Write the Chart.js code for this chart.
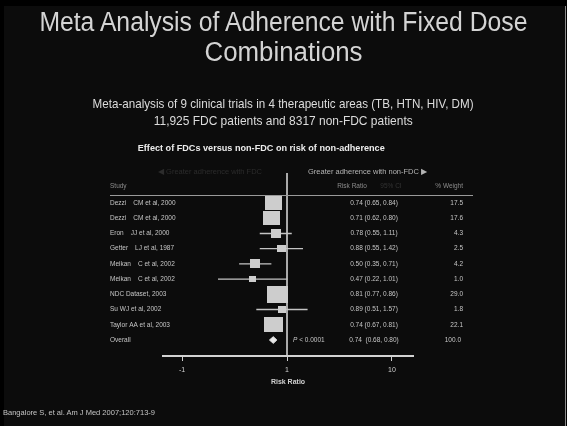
<!DOCTYPE html>
<html>
<head>
<meta charset="utf-8">
<script src="https://cdn.jsdelivr.net/npm/chart.js@4.4.1/dist/chart.umd.min.js"></script>
<style>
  html, body { margin: 0; padding: 0; background: #000; width: 567px; height: 426px; overflow: hidden; }
  #slide { position: absolute; left: 4px; top: 6px; width: 561px; height: 420px; background: #0c0c0c; border-right: 1px solid #8a8a8a; }
  #chart { position: absolute; left: 0; top: 0; }
  .t { position: absolute; white-space: nowrap; font-family: "Liberation Sans", Arial, sans-serif; }
  .t span { display: inline-block; }
  .c { text-align: center; }
  .c span { transform-origin: center; }
  .l span { transform-origin: left; }
</style>
</head>
<body>
<div id="slide"></div>
<canvas id="chart" width="567" height="426"></canvas>

<div class="t c" style="left:0;width:567px;top:6px;height:32px;line-height:32px;font-size:27px;color:#d4d4d4"><span data-w="488">Meta Analysis of Adherence with Fixed Dose</span></div>
<div class="t c" style="left:0;width:567px;top:36px;height:32px;line-height:32px;font-size:27px;color:#d4d4d4"><span data-w="158">Combinations</span></div>
<div class="t c" style="left:0;width:567px;top:95px;height:17px;line-height:17px;font-size:13.5px;color:#dcdcdc"><span data-w="381">Meta-analysis of 9 clinical trials in 4 therapeutic areas (TB, HTN, HIV, DM)</span></div>
<div class="t c" style="left:0;width:567px;top:112px;height:17px;line-height:17px;font-size:13.5px;color:#dcdcdc"><span data-w="259">11,925 FDC patients and 8317 non-FDC patients</span></div>
<div class="t c" style="left:61px;width:400px;top:142px;height:12px;line-height:12px;font-size:8.5px;font-weight:bold;color:#ececec"><span data-w="247">Effect of FDCs versus non-FDC on risk of non-adherence</span></div>
<div class="t l" style="left:3px;top:407px;height:12px;line-height:12px;font-size:7.5px;color:#c4c4c4"><span data-w="152">Bangalore S, et al. Am J Med 2007;120:713-9</span></div>

<script>
// Forest plot data: risk of non-adherence, FDC vs non-FDC
const studyAuthors = ["Dezzi", "Dezzi", "Eron", "Getter", "Meikan", "Meikan", "NDC Dataset, 2003", "Su WJ et al, 2002", "Taylor AA et al, 2003"];
const studyRefs = ["CM et al, 2000", "CM et al, 2000", "JJ et al, 2000", "LJ et al, 1987", "C et al, 2002", "C et al, 2002", "", "", ""];
const riskRatio = [0.74, 0.71, 0.78, 0.88, 0.50, 0.47, 0.81, 0.89, 0.74];
const ciLow = [0.65, 0.62, 0.55, 0.55, 0.35, 0.22, 0.77, 0.51, 0.67];
const ciHigh = [0.84, 0.80, 1.11, 1.42, 0.71, 1.01, 0.86, 1.57, 0.81];
const weights = [17.5, 17.6, 4.3, 2.5, 4.2, 1.0, 29.0, 1.8, 22.1];
const overallLabel = "Overall";
const overallRR = 0.74;
const overallLow = 0.68;
const overallHigh = 0.80;
const overallWeight = 100.0;
const pValueText = " < 0.0001";
const tickValues = [0.1, 1, 10];
const tickLabels = ["-1", "1", "10"];

const FONT = '"Liberation Sans", Arial, sans-serif';
const overallRow = studyAuthors.length;

// Square markers sized by study weight
function makeBox(w) {
  const c = document.createElement('canvas');
  const s = Math.sqrt(w);
  c.width = Math.round(4 + 3.1 * s);
  c.height = Math.round(3.5 + 2.5 * s);
  const g = c.getContext('2d');
  g.fillStyle = '#cdcdcd';
  g.fillRect(0, 0, c.width, c.height);
  return c;
}
const boxImages = weights.map(makeBox);

// Confidence interval segments, separated by gaps
const ciSegments = [];
riskRatio.forEach((r, i) => {
  ciSegments.push({ x: ciLow[i], y: i }, { x: ciHigh[i], y: i }, { x: ciHigh[i], y: null });
});

const dh = 0.22;
const diamond = [
  { x: overallLow, y: overallRow },
  { x: overallRR, y: overallRow - dh },
  { x: overallHigh, y: overallRow },
  { x: overallRR, y: overallRow + dh },
  { x: overallLow, y: overallRow }
];

const fmt = v => v.toFixed(2);

const tablePlugin = {
  id: 'forestTable',
  afterDraw(chart) {
    const ctx = chart.ctx;
    const ys = chart.scales.y;
    const X = v => chart.scales.x.getPixelForValue(v);
    ctx.save();
    ctx.textBaseline = 'middle';

    // direction captions
    ctx.font = '7.5px ' + FONT;
    ctx.textAlign = 'center';
    ctx.fillStyle = '#2c2c2c';
    ctx.fillText('\u25C0 Greater adherence with FDC', 210, ys.getPixelForValue(-2.03));
    ctx.textAlign = 'left';
    ctx.fillStyle = '#b4b4b4';
    ctx.fillText('Greater adherence with non-FDC \u25B6', 308, ys.getPixelForValue(-2.03));

    // column headers
    const hy = ys.getPixelForValue(-1.12);
    ctx.font = '6.5px ' + FONT;
    ctx.fillStyle = '#8c8c8c';
    ctx.textAlign = 'left';
    ctx.fillText('Study', 110, hy);
    ctx.textAlign = 'center';
    ctx.fillText('Risk Ratio', 352, hy);
    ctx.fillStyle = '#333333';
    ctx.fillText('95% CI', 391, hy);
    ctx.fillStyle = '#8c8c8c';
    ctx.textAlign = 'right';
    ctx.fillText('% Weight', 463, hy);

    // rule under the headers
    const ry = Math.round(ys.getPixelForValue(-0.53)) + 0.5;
    ctx.strokeStyle = '#9a9a9a';
    ctx.lineWidth = 1;
    ctx.beginPath();
    ctx.moveTo(110, ry);
    ctx.lineTo(473, ry);
    ctx.stroke();

    // study rows
    ctx.fillStyle = '#c6c6c6';
    ctx.font = '6.5px ' + FONT;
    studyAuthors.forEach((name, i) => {
      const y = ys.getPixelForValue(i);
      ctx.textAlign = 'left';
      ctx.fillText(name, 110, y);
      if (studyRefs[i]) {
        const w = ctx.measureText(name).width;
        ctx.fillText(studyRefs[i], 110 + w + 7, y);
      }
      ctx.textAlign = 'center';
      ctx.fillText(fmt(riskRatio[i]) + ' (' + fmt(ciLow[i]) + ', ' + fmt(ciHigh[i]) + ')', 374, y);
      ctx.textAlign = 'right';
      ctx.fillText(weights[i].toFixed(1), 463, y);
    });

    // overall row
    const oy = ys.getPixelForValue(overallRow);
    ctx.textAlign = 'left';
    ctx.fillText(overallLabel, 110, oy);
    ctx.textAlign = 'center';
    ctx.fillText(fmt(overallRR) + '  (' + fmt(overallLow) + ', ' + fmt(overallHigh) + ')', 374, oy);
    ctx.textAlign = 'right';
    ctx.fillText(overallWeight.toFixed(1), 461, oy);

    // p-value beside the summary diamond
    const px = X(1) + 6;
    ctx.textAlign = 'left';
    ctx.font = 'italic 6.5px ' + FONT;
    ctx.fillText('P', px, oy);
    const pw = ctx.measureText('P').width;
    ctx.font = '6.5px ' + FONT;
    ctx.fillText(pValueText, px + pw, oy);
    ctx.restore();
  }
};

new Chart(document.getElementById('chart'), {
  type: 'scatter',
  data: {
    datasets: [
      {
        type: 'scatter',
        data: riskRatio.map((r, i) => ({ x: r, y: i })),
        pointStyle: c => boxImages[c.dataIndex],
        pointRadius: 1,
        pointHoverRadius: 1
      },
      {
        type: 'line',
        data: diamond,
        borderColor: '#e8e8e8',
        backgroundColor: '#e8e8e8',
        borderWidth: 1,
        fill: 'shape',
        pointRadius: 0,
        tension: 0
      },
      {
        type: 'line',
        data: ciSegments,
        borderColor: '#c4c4c4',
        borderWidth: 1.4,
        pointRadius: 0,
        spanGaps: false,
        tension: 0
      },
      {
        type: 'line',
        data: [{ x: 1, y: -1.97 }, { x: 1, y: 10.05 }],
        borderColor: '#d2d2d2',
        borderWidth: 1.6,
        pointRadius: 0
      }
    ]
  },
  options: {
    responsive: false,
    animation: false,
    events: [],
    layout: { padding: { left: 163, right: 154, top: 173, bottom: 40 } },
    plugins: { legend: { display: false }, tooltip: { enabled: false } },
    scales: {
      x: {
        type: 'logarithmic',
        position: 'bottom',
        min: 0.0659,
        max: 15.85,
        afterBuildTicks: s => { s.ticks = tickValues.map(v => ({ value: v })); },
        afterFit: s => { s.height = 30; },
        ticks: {
          autoSkip: false,
          maxRotation: 0,
          padding: 5,
          color: '#cfcfcf',
          font: { family: FONT, size: 7 },
          callback: (v, i) => tickLabels[i]
        },
        grid: { display: true, drawOnChartArea: false, drawTicks: true, tickLength: 5, color: '#cfcfcf', lineWidth: 1 },
        border: { display: true, color: '#d2d2d2', width: 2 },
        title: {
          display: true,
          text: 'Risk Ratio',
          color: '#d0d0d0',
          font: { family: FONT, size: 7, weight: 'bold' },
          padding: { top: -1, bottom: 0 }
        }
      },
      y: {
        type: 'linear',
        display: false,
        reverse: true,
        min: -1.97,
        max: 10.05
      }
    }
  },
  plugins: [tablePlugin]
});

// Fit heading text to its slide width
function fitText() {
  document.querySelectorAll('.t span[data-w]').forEach(el => {
    el.style.transform = 'none';
    const w = el.getBoundingClientRect().width;
    if (w > 0) el.style.transform = 'scaleX(' + (parseFloat(el.dataset.w) / w) + ')';
  });
}
fitText();
if (document.fonts && document.fonts.ready) document.fonts.ready.then(fitText);
</script>
</body>
</html>
